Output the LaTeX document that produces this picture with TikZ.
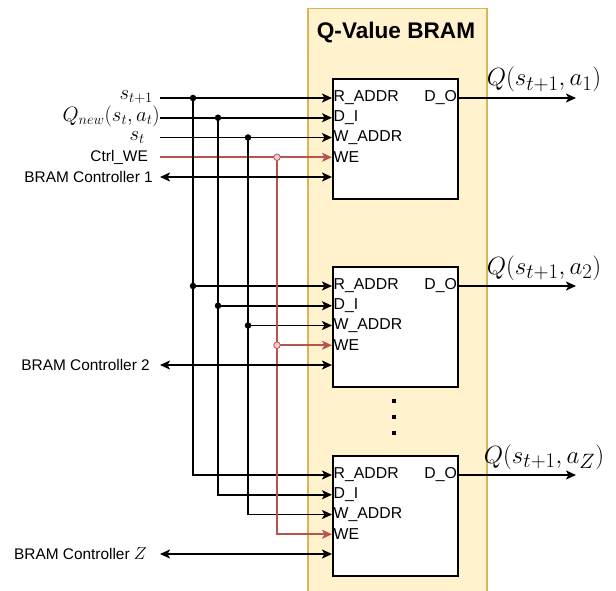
\documentclass[tikz,border=0pt]{standalone}
\usepackage{fontspec}
\setmainfont{Liberation Sans}
\usetikzlibrary{positioning,arrows.meta,calc}
\definecolor{WeRed}{HTML}{B85450}
\definecolor{WeFill}{HTML}{F8CECC}
\definecolor{BramFill}{HTML}{FFF2CC}
\definecolor{BramLine}{HTML}{D6B656}

\begin{document}
\begin{tikzpicture}[x=1pt, y=-1pt,
    group/.style={rectangle, draw=BramLine, fill=BramFill, line width=1.5pt,
        minimum width=179pt, minimum height=584pt, anchor=north west},
    bram/.style={rectangle, draw=black, fill=white, line width=1.6pt,
        minimum width=125pt, minimum height=120pt, anchor=north west},
    pin/.style={font=\fontsize{15.8}{16}\selectfont, inner sep=1.5pt, anchor=west},
    pinout/.style={pin, anchor=east},
    lbl/.style={font=\fontsize{15.4}{16}\selectfont, inner sep=0pt, anchor=east},
    mlbl/.style={lbl, font=\huge},
    qlbl/.style={font=\Huge, inner sep=0pt, anchor=base},
    arr/.style={-{Stealth[length=10pt, width=9pt, inset=2.5pt]}, line width=1.7pt},
    darr/.style={{Stealth[length=10pt, width=9pt, inset=2.5pt]}-{Stealth[length=10pt, width=9pt, inset=2.5pt]}, line width=1.7pt},
    warr/.style={arr, draw=WeRed, line width=1.6pt},
    dot/.style={circle, fill=black, inner sep=0pt, minimum size=6.5pt},
    odot/.style={circle, draw=WeRed, fill=WeFill, inner sep=0pt, minimum size=6.5pt, line width=0.8pt},
]
\useasboundingbox (0,0) rectangle (616,591);

\node[group] (grp) at (307,8) {};
\node[font=\bfseries\fontsize{22.6}{23}\selectfont] (title) at (396,33) {Q-Value BRAM};

\node[bram] (b1) at (332,78) {};
\node[bram] (b2) at (332,266) {};
\node[bram] (b3) at (332,455) {};

\foreach \b in {1,2,3} {
    \node[pin] (r\b) at ($(b\b.north west)+(0,20)$) {R\_ADDR};
    \node[pin] (d\b) at ($(b\b.north west)+(0,39.75)$) {D\_I};
    \node[pin] (w\b) at ($(b\b.north west)+(0,59.5)$) {W\_ADDR};
    \node[pin] (e\b) at ($(b\b.north west)+(0,79.25)$) {WE};
    \coordinate (c\b) at ($(b\b.north west)+(0,99)$);
    \node[pinout] (o\b) at ($(b\b.north east)+(0,20)$) {D\_O};
}

\coordinate (in) at (160,0);
\coordinate (out) at (576,0);
\coordinate (busr) at (193,0);
\coordinate (busd) at (218,0);
\coordinate (busw) at (248,0);
\coordinate (buse) at (277,0);

\node[mlbl] (snext) at (153,97) {$s_{t+1}$};
\node[mlbl] (qnew) at (160,116) {$Q_{new}(s_t,a_t)$};
\node[mlbl] (scur) at (145,137.5) {$s_t$};
\node[lbl] (ctrlwe) at (148,157) {Ctrl\_WE};
\node[lbl] (bc1) at (153,177) {BRAM Controller 1};
\node[lbl] (bc2) at (150,365) {BRAM Controller 2};
\node[lbl] (bcz) at (147,554) {BRAM Controller {\LARGE$Z$}};

\draw[arr] (in |- r1.west) -- (r1.west);
\draw[arr] (in |- d1.west) -- (d1.west);
\draw[arr] (in |- w1.west) -- (w1.west);
\draw[warr] (in |- e1.west) -- (e1.west);

\draw[arr] (busr |- r1.west) |- (r3.west);
\draw[arr] (busr |- r2.west) -- (r2.west);
\draw[arr] (busd |- d1.west) |- (d3.west);
\draw[arr] (busd |- d2.west) -- (d2.west);
\draw[arr] (busw |- w1.west) |- (w3.west);
\draw[arr] (busw |- w2.west) -- (w2.west);
\draw[warr] (buse |- e1.west) |- (e3.west);
\draw[warr] (buse |- e2.west) -- (e2.west);

\node[dot] (jr1) at (busr |- r1.west) {};
\node[dot] (jr2) at (busr |- r2.west) {};
\node[dot] (jd1) at (busd |- d1.west) {};
\node[dot] (jd2) at (busd |- d2.west) {};
\node[dot] (jw1) at (busw |- w1.west) {};
\node[dot] (jw2) at (busw |- w2.west) {};
\node[odot] (je1) at (buse |- e1.west) {};
\node[odot] (je2) at (buse |- e2.west) {};

\draw[darr] (in |- c1) -- (c1);
\draw[darr] (in |- c2) -- (c2);
\draw[darr] (in |- c3) -- (c3);

\draw[arr] (b1.east |- o1) -- (out |- o1);
\draw[arr] (b2.east |- o2) -- (out |- o2);
\draw[arr] (b3.east |- o3) -- (out |- o3);

\node[qlbl] (q1) at (544,86) {$Q(s_{t+1},a_1)$};
\node[qlbl] (q2) at (544,274) {$Q(s_{t+1},a_2)$};
\node[qlbl] (qz) at (544,463) {$Q(s_{t+1},a_Z)$};

\foreach \y in {399,415,431}
    \fill (392,\y) rectangle ++(3.5,3.5);
\end{tikzpicture}
\end{document}
